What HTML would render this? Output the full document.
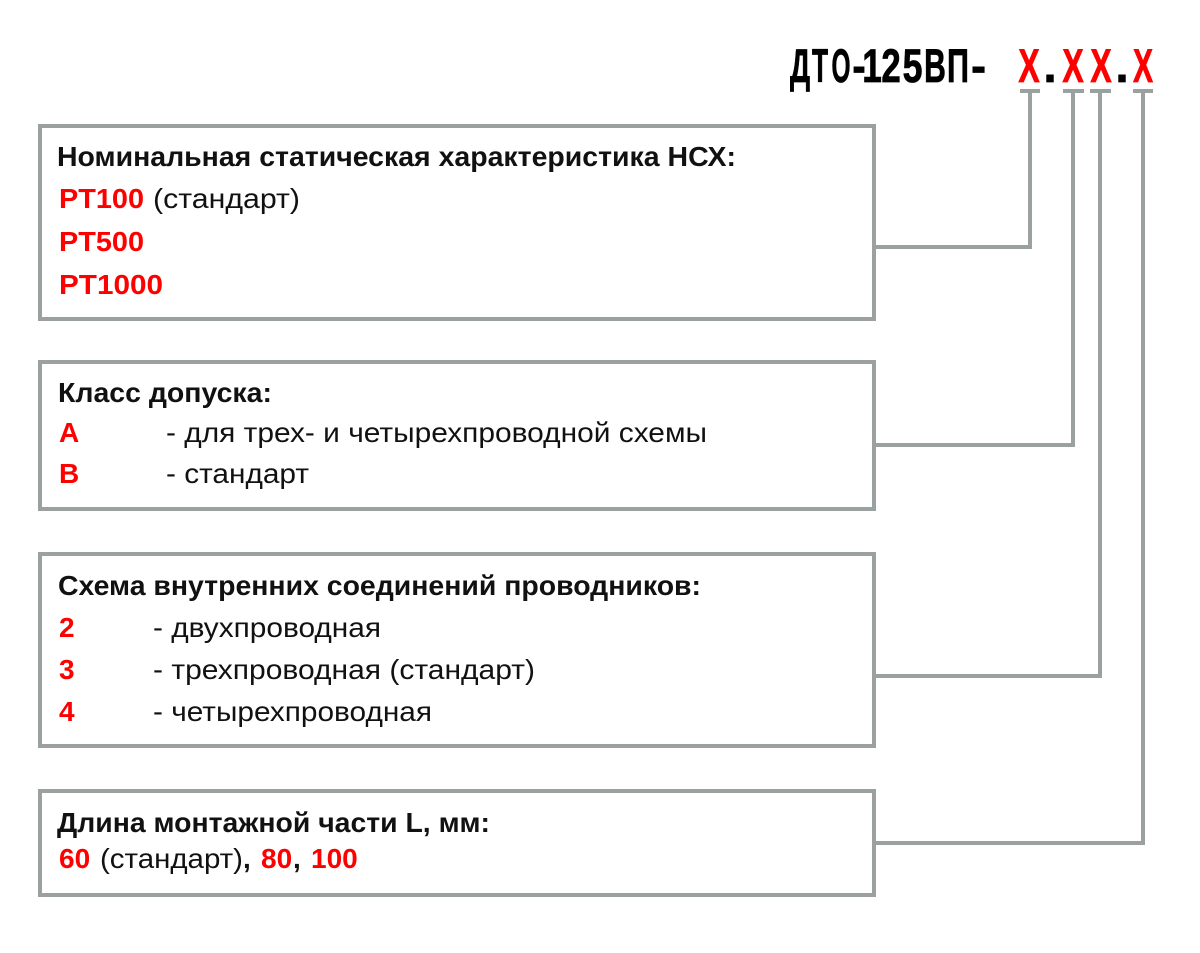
<!DOCTYPE html>
<html><head><meta charset="utf-8">
<style>
html,body{margin:0;padding:0;background:#fff;}
svg{display:block;}
.t{font-family:"Liberation Sans","DejaVu Sans",sans-serif;font-size:28px;fill:#111;}
.b{font-weight:bold;}
.r{fill:#ff0000;font-weight:bold;}
.h{font-family:"Liberation Sans","DejaVu Sans",sans-serif;font-size:47px;font-weight:bold;text-anchor:middle;}
</style></head>
<body>
<svg width="1200" height="953" viewBox="0 0 1200 953" xmlns="http://www.w3.org/2000/svg">
<rect width="1200" height="953" fill="#fff"/>
<g fill="none" stroke="#9ba0a1" stroke-width="4" stroke-linejoin="miter">
  <rect x="40" y="126" width="834" height="193"/>
  <rect x="40" y="362" width="834" height="147"/>
  <rect x="40" y="554" width="834" height="192"/>
  <rect x="40" y="791" width="834" height="104"/>
  <path d="M876 247 H1030 V91"/>
  <path d="M876 445 H1073 V91"/>
  <path d="M876 676 H1100 V91"/>
  <path d="M876 843 H1143 V91"/>
</g>
<g fill="#9ba0a1">
  <rect x="1020" y="89" width="20" height="4"/>
  <rect x="1063" y="89" width="21" height="4"/>
  <rect x="1090" y="89" width="21" height="4"/>
  <rect x="1133" y="89" width="20" height="4"/>
</g>

<!-- Title -->
<g class="h" fill="#000" stroke="#000" stroke-width="0.8">
  <text transform="translate(800,82) scale(0.6,1)">Д</text>
  <text transform="translate(820,82) scale(0.56,1)">Т</text>
  <text transform="translate(841,82) scale(0.52,1)">О</text>
  <text transform="translate(859,82) scale(0.85,1)">-</text>
  <text transform="translate(872,82) scale(0.75,1)">1</text>
  <text transform="translate(891,82) scale(0.74,1)">2</text>
  <text transform="translate(912.5,82) scale(0.76,1)">5</text>
  <text transform="translate(935,82) scale(0.64,1)">В</text>
  <text transform="translate(958,82) scale(0.65,1)">П</text>
  <text transform="translate(978.5,82) scale(0.95,1)">-</text>
  <text transform="translate(1050,82) scale(1,1)">.</text>
  <text transform="translate(1122,82) scale(1,1)">.</text>
</g>
<g class="h" fill="#ff0000" stroke="#ff0000" stroke-width="0.8">
  <text transform="translate(1029,82) scale(0.68,1)">X</text>
  <text transform="translate(1073,82) scale(0.68,1)">X</text>
  <text transform="translate(1101,82) scale(0.68,1)">X</text>
  <text transform="translate(1143,82) scale(0.64,1)">X</text>
</g>

<!-- Box 1 -->
<text class="t b" x="57" y="166" textLength="679" lengthAdjust="spacingAndGlyphs">Номинальная статическая характеристика НСХ:</text>
<text class="t r" x="59" y="208" textLength="85" lengthAdjust="spacingAndGlyphs">PT100</text>
<text class="t" x="153" y="208" textLength="147" lengthAdjust="spacingAndGlyphs">(стандарт)</text>
<text class="t r" x="59" y="251" textLength="85" lengthAdjust="spacingAndGlyphs">PT500</text>
<text class="t r" x="59" y="294" textLength="104" lengthAdjust="spacingAndGlyphs">PT1000</text>

<!-- Box 2 -->
<text class="t b" x="58" y="402" textLength="214" lengthAdjust="spacingAndGlyphs">Класс допуска:</text>
<text class="t r" x="59" y="442">А</text>
<text class="t" x="166" y="442" textLength="541" lengthAdjust="spacingAndGlyphs">- для трех- и четырехпроводной схемы</text>
<text class="t r" x="59" y="483">В</text>
<text class="t" x="166" y="483" textLength="143" lengthAdjust="spacingAndGlyphs">- стандарт</text>

<!-- Box 3 -->
<text class="t b" x="58" y="595" textLength="643" lengthAdjust="spacingAndGlyphs">Схема внутренних соединений проводников:</text>
<text class="t r" x="59" y="637">2</text>
<text class="t" x="153" y="637" textLength="228" lengthAdjust="spacingAndGlyphs">- двухпроводная</text>
<text class="t r" x="59" y="679">3</text>
<text class="t" x="153" y="679" textLength="382" lengthAdjust="spacingAndGlyphs">- трехпроводная (стандарт)</text>
<text class="t r" x="59" y="721">4</text>
<text class="t" x="153" y="721" textLength="279" lengthAdjust="spacingAndGlyphs">- четырехпроводная</text>

<!-- Box 4 -->
<text class="t b" x="57" y="832" textLength="433" lengthAdjust="spacingAndGlyphs">Длина монтажной части L, мм:</text>
<text class="t r" x="59" y="868">60</text>
<text class="t" x="100" y="868" textLength="143" lengthAdjust="spacingAndGlyphs">(стандарт)</text>
<text class="t b" x="243" y="868">,</text>
<text class="t r" x="261" y="868">80</text>
<text class="t b" x="293" y="868">,</text>
<text class="t r" x="311" y="868">100</text>
</svg>
</body></html>
